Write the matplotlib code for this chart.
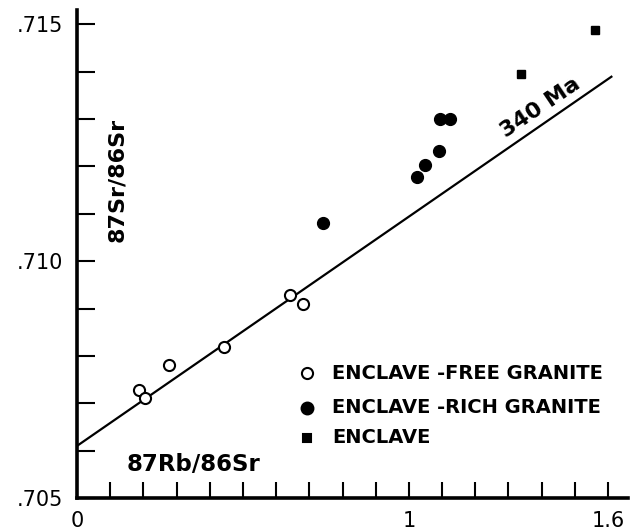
import numpy as np
import matplotlib
matplotlib.use("Agg")
import matplotlib.pyplot as plt

# 87Rb/86Sr vs 87Sr/86Sr for each sample group
free_rb = [0.188, 0.205, 0.277, 0.443, 0.642, 0.682]
free_sr = [0.70729, 0.70712, 0.70781, 0.70818, 0.70928, 0.70909]

rich_rb = [0.740, 1.025, 1.049, 1.091, 1.095, 1.123]
rich_sr = [0.71081, 0.71178, 0.71203, 0.71233, 0.71301, 0.71301]

encl_rb = [1.339, 1.560]
encl_sr = [0.71396, 0.71487]

# 340 Ma reference isochron
sr0 = 0.7061
slope = 0.00484
iso_rb = [0.0, 1.61]

fig = plt.figure(figsize=(6.38, 5.31), dpi=100)
ax = fig.add_axes([0.1207, 0.0621, 0.8636, 0.919])

iso_sr = [sr0 + slope * r for r in iso_rb]
ax.plot(iso_rb, iso_sr, color="black", lw=1.6, zorder=2)

ax.plot(free_rb, free_sr, "o", ms=8, mfc="white", mec="black", mew=1.5, zorder=3)
ax.plot(rich_rb, rich_sr, "o", ms=8.5, mfc="black", mec="black", zorder=3)
ax.plot(encl_rb, encl_sr, "s", ms=6, mfc="black", mec="black", zorder=3)

ax.set_xlim(0, 1.66)
ax.set_ylim(0.705, 0.7153)

for s in ["top", "right"]:
    ax.spines[s].set_visible(False)
for s in ["left", "bottom"]:
    ax.spines[s].set_linewidth(2.6)

xt = np.round(np.arange(0.1, 1.61, 0.1), 1)
ax.set_xticks(xt)
ax.set_xticklabels(["" for _ in xt])
ax.set_yticks(np.round(np.arange(0.705, 0.7151, 0.001), 3))
ax.set_yticklabels([".705", "", "", "", "", ".710", "", "", "", "", ".715"],
                   fontsize=15)
ax.tick_params(axis="x", direction="in", length=11.5, width=1.5, pad=6)
ax.tick_params(axis="y", direction="in", length=13, width=1.5, pad=10)

# x labels only at 0, 1 and 1.6
for v, t in [(0, "0"), (1, "1"), (1.6, "1.6")]:
    ax.text(v, -0.047, t, transform=ax.get_xaxis_transform(), ha="center",
            va="center", fontsize=15)

ax.text(0.15, 0.7057, "87Rb/86Sr", fontsize=16.5, fontweight="bold",
        ha="left", va="center")
ax.text(0.12, 0.71171, "87Sr/86Sr", fontsize=16, fontweight="bold",
        rotation=90, ha="center", va="center")
ax.text(1.395, 0.71325, "340 Ma", fontsize=16, fontweight="bold",
        rotation=34, ha="center", va="center")

# legend drawn by hand
leg = [("o", "white", 8, "ENCLAVE -FREE GRANITE"),
       ("o", "black", 8.5, "ENCLAVE -RICH GRANITE"),
       ("s", "black", 6, "ENCLAVE")]
leg_y = [0.70763, 0.70691, 0.70627]
for (m, fc, ms, lab), y in zip(leg, leg_y):
    ax.plot([0.692], [y], m, ms=ms, mfc=fc, mec="black", mew=1.5, clip_on=False)
    ax.text(0.768, y, lab, fontsize=14, fontweight="bold", ha="left", va="center")

fig.savefig("out.png", dpi=100)
